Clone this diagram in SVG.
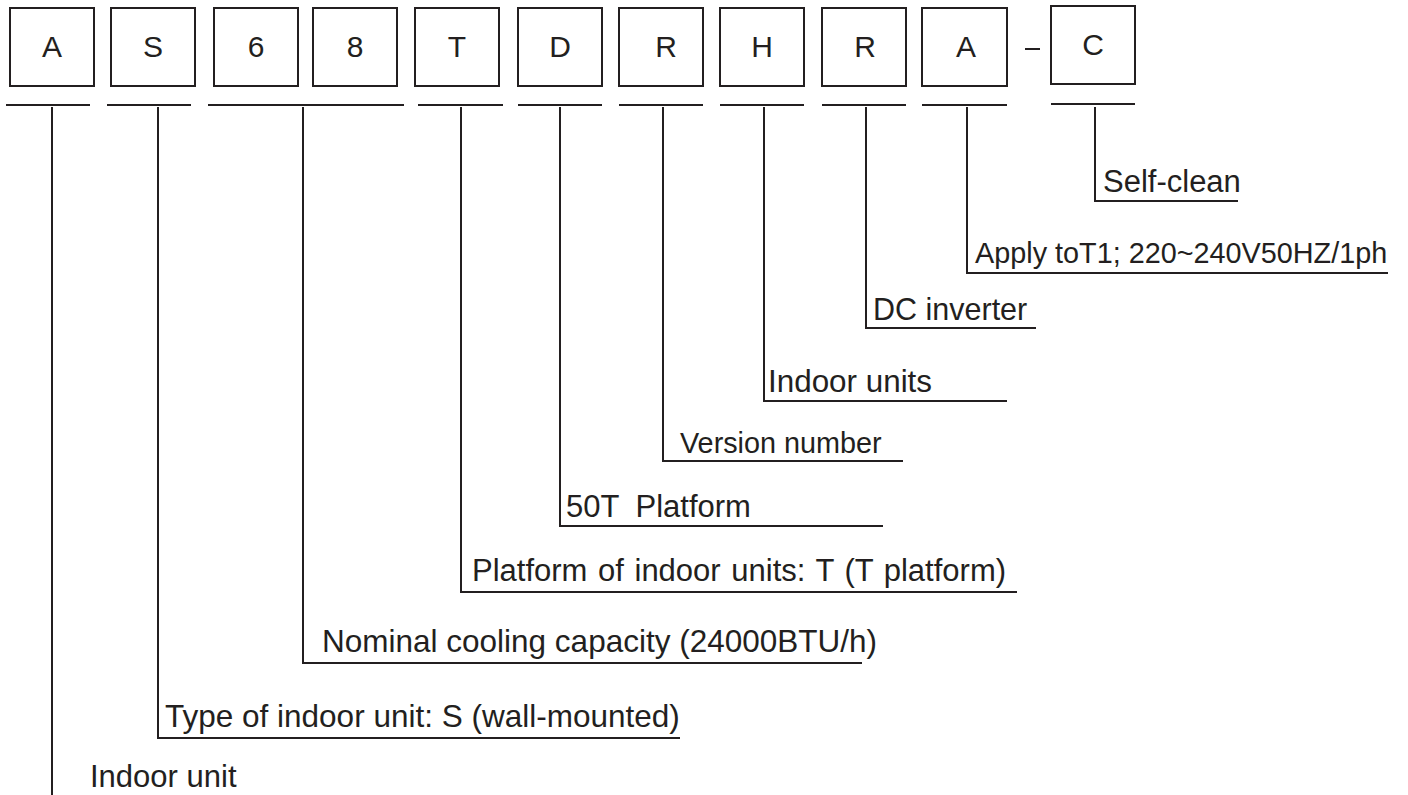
<svg xmlns="http://www.w3.org/2000/svg" width="1408" height="795" viewBox="0 0 1408 795">
<style>
.box{fill:#fff;stroke:#231f20;stroke-width:2}
.ln{fill:none;stroke:#231f20;stroke-width:2}
.ch{font-family:"Liberation Sans",Arial,sans-serif;font-size:30px;fill:#231f20;text-anchor:middle}
.lb{font-family:"Liberation Sans",Arial,sans-serif;fill:#231f20}
</style>
<rect width="1408" height="795" fill="#fff"/>
<g id="node-A1"><rect class="box" x="10" y="8" width="84" height="78"/><text class="ch" x="52" y="57">A</text></g>
<g id="node-S"><rect class="box" x="111" y="8" width="84" height="78"/><text class="ch" x="153" y="57">S</text></g>
<g id="node-6"><rect class="box" x="214" y="8" width="84" height="78"/><text class="ch" x="256" y="57">6</text></g>
<g id="node-8"><rect class="box" x="313" y="8" width="84" height="78"/><text class="ch" x="355" y="57">8</text></g>
<g id="node-T"><rect class="box" x="415" y="8" width="84" height="78"/><text class="ch" x="457" y="57">T</text></g>
<g id="node-D"><rect class="box" x="518" y="8" width="84" height="78"/><text class="ch" x="560" y="57">D</text></g>
<g id="node-R1"><rect class="box" x="619" y="8" width="84" height="78"/><text class="ch" x="666" y="57">R</text></g>
<g id="node-H"><rect class="box" x="720" y="8" width="84" height="78"/><text class="ch" x="762" y="57">H</text></g>
<g id="node-R2"><rect class="box" x="822" y="8" width="84" height="78"/><text class="ch" x="865" y="57">R</text></g>
<g id="node-A2"><rect class="box" x="922" y="8" width="85" height="78"/><text class="ch" x="966" y="57">A</text></g>
<g id="dash"><line class="ln" x1="1025" y1="49" x2="1040" y2="49"/></g>
<g id="node-C"><rect class="box" x="1051" y="6" width="84" height="78"/><text class="ch" x="1093" y="55">C</text></g>

<g id="connectors">
<line class="ln" x1="6" y1="105" x2="90" y2="105"/>
<line class="ln" x1="107" y1="105" x2="191" y2="105"/>
<line class="ln" x1="208" y1="105" x2="404" y2="105"/>
<line class="ln" x1="418" y1="105" x2="503" y2="105"/>
<line class="ln" x1="518" y1="105" x2="602" y2="105"/>
<line class="ln" x1="619" y1="105" x2="703" y2="105"/>
<line class="ln" x1="720" y1="105" x2="804" y2="105"/>
<line class="ln" x1="822" y1="105" x2="906" y2="105"/>
<line class="ln" x1="922" y1="105" x2="1007" y2="105"/>
<line class="ln" x1="1051" y1="104" x2="1135" y2="104"/>

<polyline class="ln" points="52,107 52,795"/>
<polyline class="ln" points="158,107 158,738 680,738"/>
<polyline class="ln" points="303,107 303,663 862,663"/>
<polyline class="ln" points="461,107 461,592 1017,592"/>
<polyline class="ln" points="560,107 560,526 883,526"/>
<polyline class="ln" points="663,107 663,461 903,461"/>
<polyline class="ln" points="764,107 764,401 1007,401"/>
<polyline class="ln" points="866,107 866,328 1036,328"/>
<polyline class="ln" points="967,107 967,273 1388,273"/>
<polyline class="ln" points="1095,107 1095,201 1238,201"/>
</g>

<g id="labels">
<text class="lb" x="1103" y="192" font-size="31">Self-clean</text>
<text class="lb" x="975" y="263" font-size="28.8">Apply toT1; 220~240V50HZ/1ph</text>
<text class="lb" x="873" y="320" font-size="30.5">DC inverter</text>
<text class="lb" x="768" y="392" font-size="31.4">Indoor units</text>
<text class="lb" x="680" y="453" font-size="28.8">Version number</text>
<text class="lb" x="566" y="517" font-size="31" word-spacing="8">50T Platform</text>
<text class="lb" x="472" y="581" font-size="31" word-spacing="2">Platform of indoor units: T (T platform)</text>
<text class="lb" x="322" y="652" font-size="31.5">Nominal cooling capacity (24000BTU/h)</text>
<text class="lb" x="165" y="727" font-size="31.5">Type of indoor unit: S (wall-mounted)</text>
<text class="lb" x="90" y="787" font-size="31">Indoor unit</text>
</g>
</svg>
